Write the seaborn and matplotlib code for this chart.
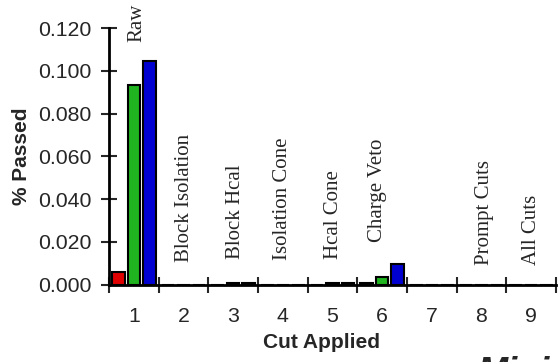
import matplotlib
matplotlib.use("Agg")
import matplotlib.pyplot as plt
import seaborn as sns
import pandas as pd
import numpy as np

# ---- data ----
cuts = ["1", "2", "3", "4", "5", "6", "7", "8", "9"]
series_names = ["Red", "Green", "Blue"]
red_vals = [0.0060, 0.0, 0.0, 0.0, 0.0, 0.0009, 0.0, 0.0, 0.0]
green_vals = [0.0935, 0.0, 0.0005, 0.0, 0.0005, 0.0035, 0.0, 0.0, 0.0]
blue_vals = [0.1045, 0.0, 0.0005, 0.0, 0.0005, 0.0095, 0.0, 0.0, 0.0]
cut_names = ["Raw", "Block Isolation", "Block Hcal", "Isolation Cone", "Hcal Cone",
             "Charge Veto", "Prompt Cuts", "All Cuts"]
cut_name_slots = [1, 2, 3, 4, 5, 6, 8, 9]
y_ticks = [0.0, 0.02, 0.04, 0.06, 0.08, 0.10, 0.12]

# label placement (layout only)
label_dx = [0.06, 0.02, 0.05, 0.0, 0.02, -0.09, 0.06, 0.0]
label_y = [0.1137, 0.0107, 0.0118, 0.0115, 0.0118, 0.0200, 0.0091, 0.0091]

df = pd.DataFrame({
    "cut": cuts * 3,
    "series": [s for s in series_names for _ in cuts],
    "value": red_vals + green_vals + blue_vals,
})

sns.set_style("ticks")
plt.rcParams["font.family"] = ["Liberation Sans", "DejaVu Sans"]

fig = plt.figure(figsize=(5.58, 3.62), dpi=100)
ax = fig.add_axes([109 / 558, 1 - 284.5 / 362, (556 - 109) / 558, (284.5 - 28.3) / 362])

palette = {"Red": "#e00000", "Green": "#20b420", "Blue": "#0000d0"}
sns.barplot(data=df, x="cut", y="value", hue="series", order=cuts,
            hue_order=series_names, palette=palette, width=0.93,
            edgecolor="black", linewidth=1.5, saturation=1, legend=False, ax=ax)

# narrow each bar around its own centre to leave small gaps between dodged bars
for p in ax.patches:
    cx = p.get_x() + p.get_width() / 2
    w = 0.255
    p.set_x(cx - w / 2)
    p.set_width(w)

ax.set_xlim(-0.5, len(cuts) - 0.5)
ax.set_ylim(0, 0.12)

# y axis
ax.set_yticks(y_ticks)
ax.set_yticklabels([f"{v:.3f}" for v in y_ticks], fontsize=15.3)
ax.tick_params(axis="y", direction="inout", length=11, width=1.5, pad=7)

# x axis: boundary ticks, labels at centers
ax.set_xticks(np.arange(len(cuts) + 1) - 0.5)
ax.set_xticklabels([])
ax.set_xticks(np.arange(len(cuts)), minor=True)
ax.set_xticklabels(cuts, minor=True, fontsize=15.3)
ax.tick_params(axis="x", which="major", direction="inout", length=11, width=1.5)
ax.tick_params(axis="x", which="minor", length=0, pad=16)

for s in ["top", "right"]:
    ax.spines[s].set_visible(False)
for s in ["left", "bottom"]:
    ax.spines[s].set_linewidth(2)
    ax.spines[s].set_color("black")

ax.set_xlabel("Cut Applied", fontsize=15, fontweight="bold", labelpad=5, x=0.4765)
ax.set_ylabel("% Passed", fontsize=15, fontweight="bold", labelpad=5.5)

for name, slot, dx, yy in zip(cut_names, cut_name_slots, label_dx, label_y):
    ax.text(slot - 1 + dx, yy, name, rotation=90, ha="center", va="bottom",
            fontsize=15, family=["Liberation Serif", "DejaVu Serif"], clip_on=False)

fig.text(477 / 558, 1 - 356 / 362, "Mini", fontsize=26, fontweight="bold",
         fontstyle="italic", ha="left", va="top")

fig.savefig("out.png", dpi=100)
